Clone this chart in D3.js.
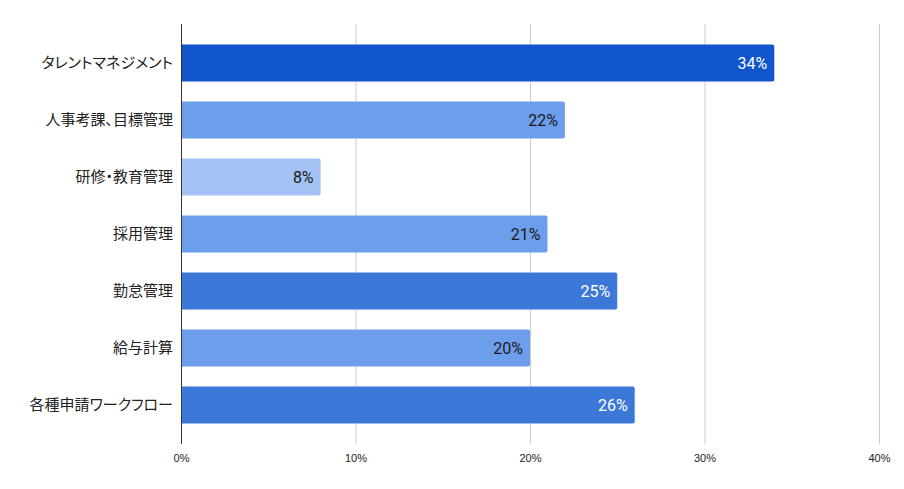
<!DOCTYPE html>
<html><head><meta charset="utf-8">
<script src="https://cdn.jsdelivr.net/npm/d3@7"></script>
<style>body{margin:0;background:#fff}svg{display:block}</style>
</head><body>
<script>
const categories = ["タレントマネジメント","人事考課、目標管理","研修・教育管理","採用管理","勤怠管理","給与計算","各種申請ワークフロー"];
const values = [34,22,8,21,25,20,26];
const barColors = ["#1155cc","#6d9eeb","#a4c2f4","#6d9eeb","#3c78d8","#6d9eeb","#3c78d8"];
const labelColors = ["#ffffff","#1a1a1a","#1a1a1a","#1a1a1a","#ffffff","#1a1a1a","#ffffff"];
const tickValues = [0,10,20,30,40];

const W=904,H=489;
const svg=d3.select("body").append("svg").attr("width",W).attr("height",H);
const x=d3.scaleLinear().domain([0,40]).range([181,879]);
const y=d3.scaleBand().domain(categories).range([24,444]).paddingInner(0.351).paddingOuter(0.36);

svg.append("g").selectAll("line").data(tickValues.filter(d=>d>0)).join("line")
 .attr("x1",d=>x(d)+0.5).attr("x2",d=>x(d)+0.5).attr("y1",24).attr("y2",444)
 .attr("stroke","#cccccc").attr("stroke-width",1);

const r=2;
svg.append("g").selectAll("path").data(values).join("path")
 .attr("d",(d,i)=>{const x0=x(0),x1=x(d),y0=y(categories[i]),h=y.bandwidth();
   return `M${x0},${y0}H${x1-r}Q${x1},${y0} ${x1},${y0+r}V${y0+h-r}Q${x1},${y0+h} ${x1-r},${y0+h}H${x0}Z`;})
 .attr("fill",(d,i)=>barColors[i]);

svg.append("line").attr("x1",x(0)+0.5).attr("x2",x(0)+0.5).attr("y1",24).attr("y2",444)
 .attr("stroke","#333").attr("stroke-width",1);

svg.append("g").selectAll("text").data(values).join("text")
 .attr("x",d=>x(d)-7).attr("y",(d,i)=>y(categories[i])+y.bandwidth()/2)
 .attr("dy","0.36em").attr("text-anchor","end")
 .attr("font-family","Roboto, sans-serif").attr("font-size",16)
 .attr("fill",(d,i)=>labelColors[i]).text(d=>d+"%");

svg.append("g").selectAll("text").data(categories).join("text")
 .attr("x",173).attr("y",d=>y(d)+y.bandwidth()/2).attr("dy","0.36em")
 .attr("text-anchor","end").attr("font-family","'Noto Sans CJK JP', sans-serif")
 .style("font-feature-settings","'palt'")
 .attr("font-size",15).attr("fill","#222").text(d=>d);

const xAxis=d3.axisBottom(x).tickValues(tickValues).tickFormat(d=>d+"%").tickSize(0).tickPadding(0);
const gx=svg.append("g").attr("transform","translate(0,454)").call(xAxis);
gx.select(".domain").remove();
gx.selectAll("text").attr("font-family","'Liberation Sans', Arial, sans-serif").attr("font-size",11).attr("fill","#222");
</script>
</body></html>
